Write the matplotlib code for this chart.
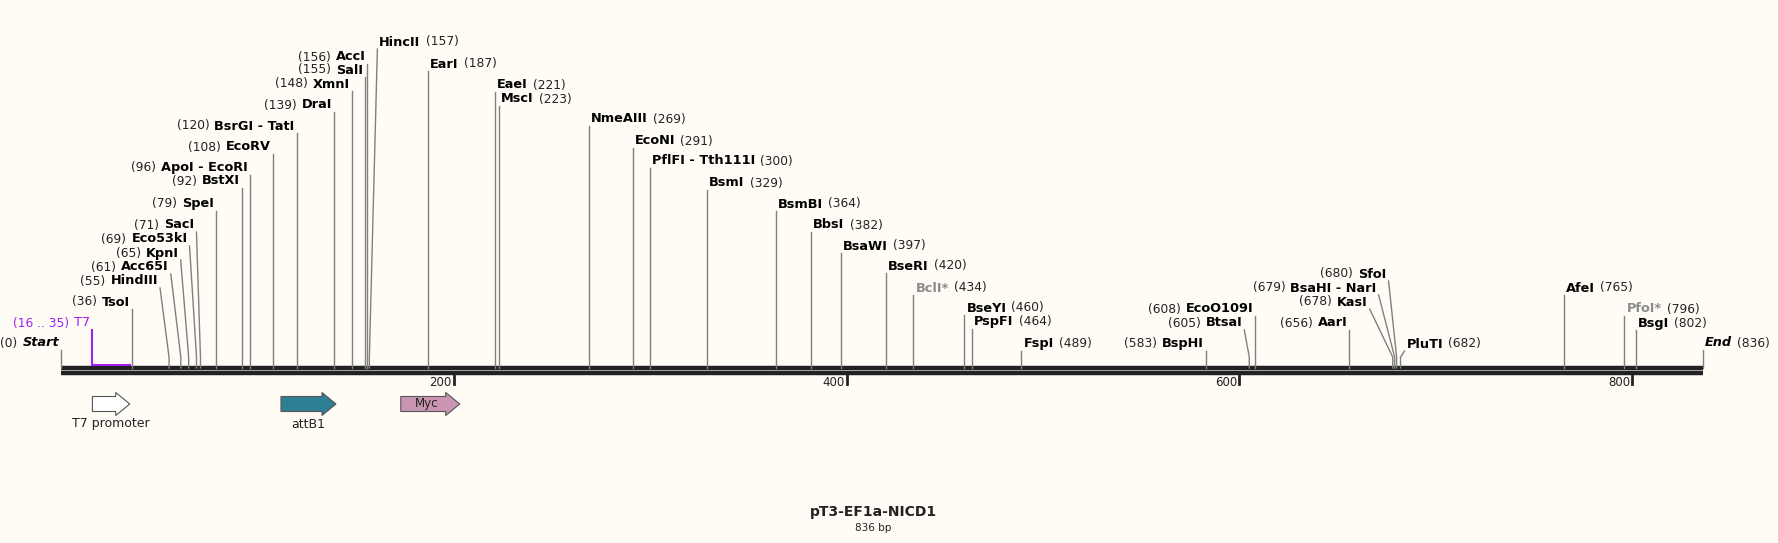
import matplotlib
matplotlib.use("Agg")
import matplotlib.pyplot as plt
from matplotlib.patches import FancyArrow

# ── Data ──────────────────────────────────────────────
SEQ_NAME = "pT3-EF1a-NICD1"
SEQ_LEN = 836

ENZYMES = ["TsoI", "HindIII", "Acc65I", "KpnI", "Eco53kI", "SacI", "SpeI", "BstXI",
           "ApoI - EcoRI", "EcoRV", "BsrGI - TatI", "DraI", "XmnI", "SalI", "AccI",
           "HincII", "EarI", "EaeI", "MscI", "NmeAIII", "EcoNI", "PflFI - Tth111I",
           "BsmI", "BsmBI", "BbsI", "BsaWI", "BseRI", "BclI*", "BseYI", "PspFI", "FspI",
           "BspHI", "BtsaI", "EcoO109I", "AarI", "KasI", "BsaHI - NarI", "SfoI",
           "PluTI", "AfeI", "PfoI*", "BsgI"]
SITES = [36, 55, 61, 65, 69, 71, 79, 92, 96, 108, 120, 139, 148, 155, 156,
         157, 187, 221, 223, 269, 291, 300, 329, 364, 382, 397, 420, 434, 460, 464, 489,
         583, 605, 608, 656, 678, 679, 680, 682, 765, 796, 802]
GREYED = ["BclI*", "PfoI*"]

FEATURES = ["T7 promoter", "attB1", "Myc"]
FEAT_START = [16, 112, 173]
FEAT_END = [35, 140, 203]
FEAT_COLOR = ["#ffffff", "#2e7f94", "#c995b0"]

PRIMER = ("T7", 16, 35)
TICKS = [200, 400, 600, 800]

# ── Layout (pixels) ───────────────────────────────────
LABEL_Y = [302, 281, 267, 253, 239, 225, 204, 181, 168, 147, 126, 105, 84, 70, 57,
           42, 64, 85, 99, 119, 141, 161, 183, 204, 225, 246, 266, 288, 308, 322, 344,
           344, 323, 309, 323, 302, 288, 274, 344, 288, 309, 323]
SIDE = ["L"] * 15 + ["R"] * 16 + ["L"] * 7 + ["R"] * 4
ANCHOR_DX = {"HindIII": -9, "Acc65I": -10, "KpnI": -8, "Eco53kI": -7, "SacI": -4,
             "HincII": 8, "BtsaI": -5, "KasI": -23, "BsaHI - NarI": -16, "SfoI": -8,
             "PluTI": 4}

W, H = 1778, 543
X0, X1 = 61, 1703
BB_Y = 368
BG = "#fffcf5"
LINE = "#808080"
GAP = 5


def bx(bp):
    return X0 + bp * (X1 - X0) / SEQ_LEN


fig = plt.figure(figsize=(W / 100, H / 100), dpi=100, facecolor=BG)
ax = fig.add_axes([0, 0, 1, 1])
ax.set_xlim(0, W)
ax.set_ylim(H, 0)
ax.axis("off")
ax.set_facecolor(BG)
renderer = fig.canvas.get_renderer()


def width_px(t):
    return t.get_window_extent(renderer).width


def label(x, y, name, num, side, color="black", num_color="#222",
          name_style="normal", weight="bold"):
    if side == "L":
        t = ax.text(x - 2, y, name, ha="right", va="center", fontsize=9.3,
                    fontweight=weight, style=name_style, color=color)
        ax.text(x - 2 - width_px(t) - GAP, y, num, ha="right", va="center",
                fontsize=8.8, color=num_color)
    else:
        t = ax.text(x + 2, y, name, ha="left", va="center", fontsize=9.3,
                    fontweight=weight, style=name_style, color=color)
        ax.text(x + 2 + width_px(t) + GAP, y, num, ha="left", va="center",
                fontsize=8.8, color=num_color)


# backbone
ax.plot([X0, X1], [BB_Y, BB_Y], color="#222", lw=3.2, solid_capstyle="butt")
ax.plot([X0, X1], [BB_Y + 5, BB_Y + 5], color="#222", lw=3.2, solid_capstyle="butt")

# ticks
for t in TICKS:
    x = bx(t)
    ax.plot([x, x], [BB_Y + 6, BB_Y + 16], color="#222", lw=2)
    ax.text(x - 2, BB_Y + 14, str(t), ha="right", va="center", fontsize=8.5, color="#222")

# start / end
ax.plot([X0, X0], [BB_Y - 18, BB_Y], color=LINE, lw=1)
label(X0, 343, "Start", "(0)", "L", name_style="italic")
ax.plot([X1, X1], [BB_Y - 18, BB_Y], color=LINE, lw=1)
label(X1, 343, "End", "(836)", "R", name_style="italic")

# enzymes
for name, site, y, side in zip(ENZYMES, SITES, LABEL_Y, SIDE):
    xs = bx(site)
    xa = xs + ANCHOR_DX.get(name, 0)
    ax.plot([xa, xs, xs], [y + 7, BB_Y - 11, BB_Y], color=LINE, lw=1)
    col = "#8c8c8c" if name in GREYED else "black"
    label(xa, y, name, f"({site})", side, color=col)

# primer
pname, p0, p1 = PRIMER
ax.plot([bx(p0), bx(p0), bx(p1)], [330, BB_Y - 3, BB_Y - 3], color="#a020f0", lw=1.5)
label(bx(p0), 323, pname, f"({p0} .. {p1})", "L", color="#a020f0",
      num_color="#a020f0", weight="normal")

# features
for name, s, e, c in zip(FEATURES, FEAT_START, FEAT_END, FEAT_COLOR):
    xs, xe = bx(s), bx(e)
    ax.add_patch(FancyArrow(xs, 404, xe - xs, 0, width=15, head_width=23,
                            head_length=14, length_includes_head=True,
                            facecolor=c, edgecolor="#555", lw=0.8))
    if name == "Myc":
        ax.text((xs + xe) / 2 - 4, 404, name, ha="center", va="center", fontsize=8.5, color="#222")
    else:
        ax.text((xs + xe) / 2, 424, name, ha="center", va="center", fontsize=9, color="#222")

ax.text(873, 512, SEQ_NAME, ha="center", va="center", fontsize=10, fontweight="bold", color="#222")
ax.text(873, 528, f"{SEQ_LEN} bp", ha="center", va="center", fontsize=7.5, color="#222")

fig.savefig("out.png", dpi=100, facecolor=BG)
